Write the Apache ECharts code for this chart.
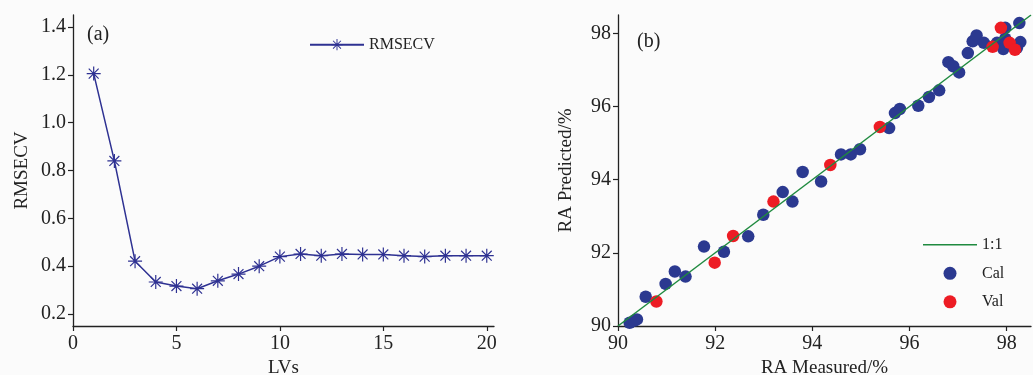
<!DOCTYPE html>
<html>
<head>
<meta charset="utf-8">
<script src="https://cdn.jsdelivr.net/npm/echarts@6/dist/echarts.min.js"></script>
<style>
html,body{margin:0;padding:0;background:#fbfbfb;}
#c{width:1033px;height:375px;}
</style>
</head>
<body>
<div id="c"></div>
<script>
// ---- Panel (a) data ----
const lvs = [1,2,3,4,5,6,7,8,9,10,11,12,13,14,15,16,17,18,19,20];
const rmsecv = [1.205,0.84,0.421,0.334,0.317,0.306,0.339,0.367,0.40,0.44,0.451,0.444,0.451,0.449,0.449,0.444,0.44,0.444,0.444,0.444];
const xTicksA = [0,5,10,15,20];
const yTicksA = [0.2,0.4,0.6,0.8,1.0,1.2,1.4];

// ---- Panel (b) data ----
const calMeasured = [90.24,90.34,90.39,90.57,90.98,91.17,91.39,91.77,92.18,92.68,92.99,93.39,93.59,93.80,94.18,94.59,94.79,94.98,95.58,95.70,95.80,96.18,96.40,96.61,96.80,96.90,97.02,97.20,97.30,97.38,97.53,97.80,97.93,97.97,97.97,98.26,98.28,98.21];
const calPredicted = [90.09,90.15,90.18,90.80,91.15,91.49,91.35,92.17,92.03,92.45,93.04,93.66,93.40,94.21,93.95,94.69,94.69,94.83,95.41,95.82,95.93,96.02,96.26,96.44,97.21,97.10,96.93,97.46,97.78,97.94,97.74,97.74,97.57,98.15,97.85,98.28,97.76,97.60];
const valMeasured = [90.79,91.99,92.37,93.20,94.37,95.39,97.71,97.88,98.06,98.17];
const valPredicted = [90.67,91.73,92.46,93.40,94.40,95.44,97.63,98.15,97.74,97.55];
const oneToOne = [[90,90],[98.5,98.5]];
const xTicksB = [90,92,94,96,98];
const yTicksB = [90,92,94,96,98];

// asterisk symbol path (style only)
function starPath(){
  const L = 10, w = 1.7;
  let s = 'path://';
  [0,45,90,135].forEach(a=>{
    const t = a*Math.PI/180, dx = Math.cos(t), dy = Math.sin(t);
    const nx = -dy*w/2, ny = dx*w/2;
    const p = [[L*dx+nx,L*dy+ny],[L*dx-nx,L*dy-ny],[-L*dx-nx,-L*dy-ny],[-L*dx+nx,-L*dy+ny]];
    s += 'M'+p.map(q=>q[0].toFixed(3)+','+q[1].toFixed(3)).join('L')+'Z';
  });
  return s;
}

const FONT = 'Liberation Serif';
const navy = '#2e3192';
const green = '#1f8a3f';
const axisCommon = {
  axisLine:{show:true,lineStyle:{color:'#222',width:1.3}},
  axisTick:{show:true,inside:false,length:5,lineStyle:{color:'#222',width:1.2}},
  splitLine:{show:false},
  nameTextStyle:{fontFamily:FONT,fontSize:19,color:'#222'},
  nameLocation:'middle'
};
function labelStyle(custom, fmt, margin){
  return {fontFamily:FONT,fontSize:20,color:'#222',margin:margin,customValues:custom,formatter:fmt};
}

const chart = echarts.init(document.getElementById('c'),null,{renderer:'canvas'});
chart.setOption({
  backgroundColor:'#fbfbfb',
  animation:false,
  grid:[
    {left:73,top:15,width:421,height:311,containLabel:false,outerBoundsMode:'none'},
    {left:618,top:15,width:413,height:311,containLabel:false,outerBoundsMode:'none'}
  ],
  xAxis:[
    Object.assign({},axisCommon,{gridIndex:0,type:'value',min:0,max:20.35,name:'LVs',nameGap:31,
      axisTick:Object.assign({},axisCommon.axisTick,{customValues:xTicksA}),
      axisLabel:labelStyle(xTicksA,v=>String(v),8)}),
    Object.assign({},axisCommon,{gridIndex:1,type:'value',min:90,max:98.5,name:'RA Measured/%',nameGap:31,
      axisTick:Object.assign({},axisCommon.axisTick,{customValues:xTicksB}),
      axisLabel:labelStyle(xTicksB,v=>String(v),8)})
  ],
  yAxis:[
    Object.assign({},axisCommon,{gridIndex:0,type:'value',min:0.15,max:1.45,name:'RMSECV',nameGap:41,
      axisTick:Object.assign({},axisCommon.axisTick,{customValues:yTicksA}),
      axisLabel:labelStyle(yTicksA,v=>v.toFixed(1),7)}),
    Object.assign({},axisCommon,{gridIndex:1,type:'value',min:90,max:98.5,name:'RA Predicted/%',nameGap:42,
      axisTick:Object.assign({},axisCommon.axisTick,{customValues:yTicksB}),
      axisLabel:labelStyle(yTicksB,v=>String(v),7)})
  ],
  legend:[
    {data:['RMSECV'],left:309,top:36.7,padding:0,itemWidth:54,itemHeight:14,itemGap:10,
     textStyle:{fontFamily:FONT,fontSize:16,color:'#222'}},
    {data:[{name:'1:1',icon:'path://M0,0L54,0L54,1.5L0,1.5Z'},'Cal','Val'],orient:'vertical',left:923,top:236.8,padding:0,
     itemWidth:54,itemHeight:13,itemGap:12.5,
     textStyle:{fontFamily:FONT,fontSize:16,color:'#222'}}
  ],
  graphic:[
    {type:'text',left:87,top:25,style:{text:'(a)',font:'20px "Liberation Serif"',fill:'#222'}},
    {type:'text',left:637,top:31.5,style:{text:'(b)',font:'20px "Liberation Serif"',fill:'#222'}}
  ],
  series:[
    {name:'RMSECV',type:'line',xAxisIndex:0,yAxisIndex:0,
     data:lvs.map((x,i)=>[x,rmsecv[i]]),
     symbol:starPath(),symbolSize:14,showSymbol:true,
     lineStyle:{color:navy,width:1.5},itemStyle:{color:navy}},
    {name:'1:1',type:'line',xAxisIndex:1,yAxisIndex:1,data:oneToOne,
     showSymbol:false,symbol:'none',lineStyle:{color:green,width:1.5},itemStyle:{color:green}},
    {name:'Cal',type:'scatter',xAxisIndex:1,yAxisIndex:1,
     data:calMeasured.map((x,i)=>[x,calPredicted[i]]),
     symbol:'circle',symbolSize:12.5,itemStyle:{color:'#2b3990',opacity:1}},
    {name:'Val',type:'scatter',xAxisIndex:1,yAxisIndex:1,
     data:valMeasured.map((x,i)=>[x,valPredicted[i]]),
     symbol:'circle',symbolSize:12.5,itemStyle:{color:'#ed1c24',opacity:1}}
  ]
});
</script>
</body>
</html>
